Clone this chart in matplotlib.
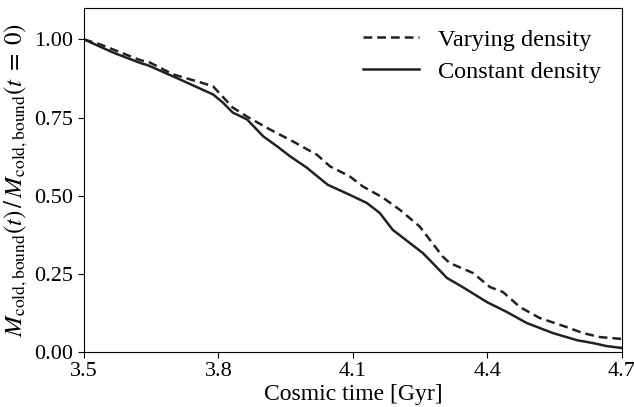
import matplotlib
matplotlib.use("Agg")
import matplotlib.pyplot as plt

plt.rcParams.update({
    "font.family": ["Liberation Serif", "DejaVu Serif"],
    "mathtext.fontset": "stix",
    "font.size": 16,
    "xtick.direction": "out",
    "ytick.direction": "out",
    "xtick.major.size": 4,
    "ytick.major.size": 4,
})

# Varying density (dashed)
t_vary = [3.50, 3.536, 3.625, 3.647, 3.699, 3.759, 3.788, 3.832, 3.864, 3.915,
          3.966, 4.020, 4.049, 4.093, 4.122, 4.167, 4.205, 4.249, 4.272, 4.301,
          4.316, 4.368, 4.406, 4.435, 4.473, 4.517, 4.577, 4.613, 4.651, 4.700]
m_vary = [1.000, 0.984, 0.934, 0.926, 0.888, 0.863, 0.850, 0.782, 0.753, 0.712,
          0.674, 0.631, 0.594, 0.562, 0.530, 0.494, 0.455, 0.402, 0.359, 0.305,
          0.285, 0.253, 0.208, 0.192, 0.144, 0.109, 0.080, 0.061, 0.048, 0.042]

# Constant density (solid)
t_const = [3.50, 3.565, 3.625, 3.643, 3.714, 3.788, 3.810, 3.832, 3.864, 3.900,
           3.931, 3.960, 3.997, 4.044, 4.093, 4.131, 4.160, 4.189, 4.227, 4.256,
           4.278, 4.310, 4.345, 4.399, 4.444, 4.488, 4.546, 4.600, 4.635, 4.667, 4.700]
m_const = [1.000, 0.958, 0.925, 0.917, 0.872, 0.824, 0.798, 0.766, 0.744, 0.690,
           0.658, 0.626, 0.590, 0.535, 0.503, 0.477, 0.445, 0.391, 0.349, 0.317,
           0.285, 0.237, 0.208, 0.160, 0.128, 0.093, 0.061, 0.038, 0.029, 0.019, 0.013]

xticks = [3.5, 3.8, 4.1, 4.4, 4.7]
yticks = [0.0, 0.25, 0.5, 0.75, 1.0]

fig = plt.figure(figsize=(6.34, 4.07), dpi=100)
ax = fig.add_axes([0.1325, 0.135, 0.848, 0.845])

ax.plot(t_vary, m_vary, color="#222222", lw=1.8, ls=(0, (3.5, 2)), label="Varying density")
ax.plot(t_const, m_const, color="#222222", lw=1.8, label="Constant density")

ax.set_xlim(3.5, 4.7)
ax.set_ylim(0, 1.1)
ax.set_xticks(xticks)
ax.set_xticklabels([f"{v:.1f}" for v in xticks])
ax.set_yticks(yticks)
ax.set_yticklabels([f"{v:.2f}" for v in yticks])

ax.set_xlabel("Cosmic time [Gyr]", labelpad=2, fontsize=17)
ax.set_ylabel(r"$M_{\rm cold,bound}(t)\,/\,M_{\rm cold,bound}(t\;=\;0)$",
              labelpad=3, fontsize=18)

ax.legend(loc="upper right", frameon=False, handlelength=2.3, borderaxespad=0.45,
          labelspacing=0.4, fontsize=17.5, handletextpad=0.8)

fig.savefig("out.png", dpi=100)
